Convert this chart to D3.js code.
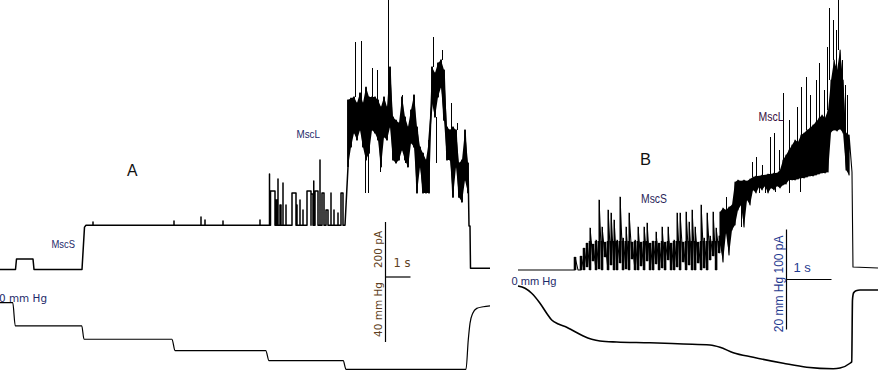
<!DOCTYPE html>
<html>
<head>
<meta charset="utf-8">
<script src="https://cdn.jsdelivr.net/npm/d3@7"></script>
<style>
body { margin: 0; background: #fff; }
svg { display: block; }
.trace { fill: none; stroke: #000; stroke-linejoin: round; }
.bar { stroke: #000; stroke-width: 1.2; }
</style>
</head>
<body>
<script>
var width = 878,
    height = 370;

// ---------- panel A : time (s), current (pA), pressure (mm Hg) ----------
var stepA = [[0, 2], [0.62, 2], [0.66, 40], [1.32, 40], [1.36, 2], [3.28, 2], [3.38, 156], [3.44, 163]];
var plateauA = 163;
// single openings on the MscS plateau: [start, end, level]
var eventsA = [
  [3.72, 3.72, 175], [6.96, 6.96, 178], [8.04, 8.04, 193], [8.2, 8.2, 182], [8.92, 8.92, 178], [10.4, 10.4, 182],
  [10.78, 10.78, 349], [10.82, 11.0, 287], [11.04, 11.08, 255], [11.12, 11.12, 331], [11.2, 11.24, 236],
  [11.32, 11.32, 316], [11.44, 11.44, 236], [11.68, 11.84, 280], [11.88, 11.88, 236], [12.0, 12.0, 255],
  [12.12, 12.12, 218], [12.28, 12.44, 287], [12.44, 12.52, 276], [12.55, 12.55, 324], [12.6, 12.72, 287],
  [12.8, 12.8, 400], [12.88, 12.96, 280], [13.04, 13.12, 218], [13.24, 13.24, 280], [13.36, 13.36, 218],
  [13.52, 13.52, 207], [13.64, 13.72, 280]
];
// MscL burst, sampled every 0.12 s from 13.92 s: low and high edge
var coreA_t0 = 13.92, coreA_dt = 0.12;
var coreA_lo = [375, 447, 498, 473, 509, 447, 400, 425, 509, 498, 473, 375, 484, 473, 520, 400, 389, 400, 436, 400,
  375, 462, 447, 280, 375, 280, 280, 280, 607, 556, 629, 665, 545, 400, 400, 265, 375, 265, 247, 327, 280];
var coreA_hi = [618, 625, 629, 607, 644, 607, 665, 629, 629, 629, 618, 593, 629, 593, 738, 556, 545, 535, 629, 556,
  520, 582, 636, 520, 447, 425, 400, 473, 738, 716, 753, 764, 727, 520, 509, 520, 509, 389, 400, 509, 389];
var spikesA = [[14.2, 829], [14.47, 833], [14.88, 734], [15.08, 727], [15.52, 982], [16.08, 636], [16.6, 636],
  [17.32, 847], [17.68, 800], [18.04, 607], [18.28, 535], [18.64, 509]];
var dipsA = [[14.6, 280], [14.72, 280], [15.2, 356], [16.2, 389], [17.44, 389], [18.12, 265], [18.52, 247]];
var endA = [[18.76, 160], [18.8, 160], [18.82, 6], [19.6, 6]];
var pressA = [[0, 0], [0.51, 0], [0.61, -14.2], [3.27, -14.2], [3.36, -22.5], [6.88, -22.5], [7.0, -29.5],
  [10.63, -29.5], [10.76, -35.7], [13.73, -35.7], [13.84, -41], [18.64, -41], [18.73, -23], [18.8, -12.7],
  [18.91, -6.5], [19.07, -3.5], [19.33, -2.5], [19.6, -2.0]];

// ---------- panel B ----------
var startB = [[0, 0], [1.267, 0]];
var openB1 = 58;   // MscS open level in the first burst
// MscS part, every 0.0667 s from 1.267 s
var coreB1_t0 = 1.267, coreB1_dt = 0.0667;
var coreB1_lo = [0, 0, 0, 0, 6, 0, 18, 0, 2, 0, 26, 0, 10, 0, 0, 14, 0, 2, 0, 22, 0, 0, 8, 0, 18, 0, 0, 12, 0, 4,
  0, 20, 0, 0, 6, 0, 16, 0, 10, 0, 0, 14, 0, 4, 0, 20, 28, 0, 34];
var coreB1_hi = [26, 0, 28, 44, 54, 84, 52, 60, 140, 86, 56, 120, 114, 100, 60, 146, 64, 86, 114, 56, 60, 86, 56, 86,
  94, 54, 58, 76, 54, 86, 56, 86, 54, 60, 114, 114, 56, 116, 96, 120, 86, 56, 130, 64, 114, 68, 116, 84, 68];
// MscS + MscL part, every 0.0667 s from 4.489 s
var coreB2_t0 = 4.489, coreB2_dt = 0.0667;
var coreB2_lo = [50, 16, 74, 30, 80, 90, 120, 130, 86, 140, 130, 160, 154, 166, 160, 168, 154, 164, 160, 168,
  164, 170, 172, 180, 180, 180, 182, 184, 184, 186, 188, 188, 190, 192, 194, 194, 196, 276, 280, 278, 282, 274, 200, 190];
var coreB2_hi = [116, 124, 120, 126, 130, 176, 180, 178, 180, 178, 182, 186, 188, 188, 190, 190, 192, 192, 194, 194,
  200, 220, 230, 240, 250, 260, 256, 270, 274, 280, 284, 290, 296, 304, 310, 304, 320, 380, 420, 400, 440, 380, 274, 270];
var spikesB = [[4.644, 146], [5.222, 216], [5.311, 226], [5.444, 210], [5.6, 266], [5.711, 274], [5.8, 240],
  [5.889, 354], [6.044, 300], [6.2, 326], [6.311, 366], [6.422, 386], [6.489, 350], [6.644, 380], [6.711, 414],
  [6.8, 360], [6.867, 446], [6.933, 524], [7.0, 500], [7.067, 480], [7.133, 540], [7.2, 420], [7.267, 370], [7.333, 350]];
var dipsB = [[4.97, 86], [5.36, 154], [5.51, 154], [5.73, 156], [6.04, 154], [6.27, 156]];
var endB = [[7.422, 196], [7.444, 6], [8.0, 4]];
var pressB = [[0, 0], [0.156, -0.9], [0.304, -2.9], [0.489, -6.9], [0.637, -10.9], [0.749, -13.6], [0.896, -15.2],
  [1.082, -16.5], [1.229, -17.9], [1.451, -20.0], [1.638, -21.3], [1.822, -22.0], [2.193, -22.4], [2.933, -22.7],
  [3.673, -23.2], [4.267, -23.6], [4.489, -24.5], [4.784, -26.7], [5.229, -28.5], [5.896, -30.9], [6.416, -32.5],
  [7.007, -33.1], [7.156, -32.8], [7.378, -30.9], [7.416, -30.3], [7.433, -5.6], [7.456, -2.8], [7.511, -1.9],
  [7.6, -1.6], [8.0, -1.6]];

// ---------- scales ----------
var xA = d3.scaleLinear().domain([0, 19.6]).range([0, 490]),
    yA = d3.scaleLinear().domain([0, 200]).range([270, 215]),
    pyA = d3.scaleLinear().domain([0, -40]).range([302.7, 367.7]);
var xB = d3.scaleLinear().domain([0, 8]).range([518, 878]),
    yB = d3.scaleLinear().domain([0, 100]).range([270, 220]),
    pyB = d3.scaleLinear().domain([0, -20]).range([286, 336]);

var svg = d3.select("body").append("svg")
    .attr("width", width)
    .attr("height", height);

function samples(t0, dt, lo, hi) {
  return lo.map(function(v, i) { return {t: t0 + i * dt, lo: v, hi: hi[i]}; });
}

// sawtooth through low/high edges of each sample
function zigzag(s) {
  var pts = [];
  s.forEach(function(d) { pts.push([d.t, d.lo], [d.t, d.hi]); });
  return pts;
}

function expandEvents(ev, base) {
  var pts = [];
  ev.forEach(function(e) {
    pts.push([e[0], base], [e[0], e[2]], [e[1], e[2]], [e[1], base]);
  });
  return pts;
}

function nearest(s, t) {
  var i = Math.round((t - s[0].t) / (s[1].t - s[0].t));
  return s[Math.max(0, Math.min(s.length - 1, i))];
}

function vlines(g, data, x, y, col, w, crisp) {
  g.append("g").selectAll("line")
    .data(data)
    .enter().append("line")
      .attr("x1", d => x(d.t)).attr("x2", d => x(d.t))
      .attr("y1", d => y(d.from)).attr("y2", d => y(d.to))
      .attr("stroke", col).attr("stroke-width", w)
      .attr("shape-rendering", crisp ? "crispEdges" : null);
}

function drawPanel(x, y, py, trace, fills, spikes, dips, press, pw, tw) {
  var g = svg.append("g");
  var line = d3.line().x(d => x(d[0])).y(d => y(d[1]));

  fills.forEach(function(s) {
    g.append("path")
      .datum(s)
      .attr("fill", "#000")
      .attr("d", d3.area().x(d => x(d.t)).y0(d => y(d.lo)).y1(d => y(d.hi)));
  });

  g.append("path")
    .datum(trace)
    .attr("class", "trace")
    .attr("stroke-width", tw)
    .attr("d", line);

  vlines(g, spikes.map(d => ({t: d[0], from: nearest(d[2], d[0]).hi, to: d[1]})), x, y, "#000", 1, true);
  vlines(g, dips.map(d => ({t: d[0], from: nearest(d[2], d[0]).lo, to: d[1]})), x, y, "#000", 1, true);

  g.append("path")
    .datum(press)
    .attr("class", "trace")
    .attr("stroke-width", pw)
    .attr("d", d3.line().x(d => x(d[0])).y(d => py(d[1])).curve(d3.curveMonotoneX));
  return g;
}

// panel A
var sA = samples(coreA_t0, coreA_dt, coreA_lo, coreA_hi);
var traceA = stepA
  .concat(expandEvents(eventsA, plateauA))
  .concat([[13.8, plateauA]])
  .concat(zigzag(sA))
  .concat(endA);
var gA = drawPanel(xA, yA, pyA, traceA, [sA],
  spikesA.map(d => [d[0], d[1], sA]), dipsA.map(d => [d[0], d[1], sA]), pressA, 1.2, 1.5);
// hairline texture inside the burst
vlines(gA, sA.map(d => ({t: d.t, from: d.lo, to: d.hi})), xA, yA, "#000", 1.6);

// panel B
var sB1 = samples(coreB1_t0, coreB1_dt, coreB1_lo, coreB1_hi),
    sB2 = samples(coreB2_t0, coreB2_dt, coreB2_lo, coreB2_hi);
var traceB = startB
  .concat(zigzag(sB1))
  .concat(zigzag(sB2))
  .concat(endB);
var gB = drawPanel(xB, yB, pyB, traceB, [sB2],
  spikesB.map(d => [d[0], d[1], sB2]), dipsB.map(d => [d[0], d[1], sB2]), pressB, 1.6, 1.1);
// dense MscS openings: bars from the closed level up to the open level
vlines(gB, sB1.filter(d => d.hi > 0).map(d => ({t: d.t, from: d.lo, to: Math.min(d.hi, openB1)})), xB, yB, "#000", 2.6);
vlines(gB, sB1.filter(d => d.hi > openB1).map(d => ({t: d.t, from: openB1, to: d.hi})), xB, yB, "#000", 1, true);

// ---------- scale bars ----------
function scaleBar(x0, y0, x, y, py, yVal, pVal, cur, prs, col, font, fs, tx, ty) {
  var up = y(0) - y(yVal), down = py(pVal) - py(0), across = x(1) - x(0);
  svg.append("line").attr("class", "bar")
    .attr("x1", x0).attr("x2", x0).attr("y1", y0 - up).attr("y2", y0 + down);
  svg.append("line").attr("class", "bar")
    .attr("x1", x0).attr("x2", x0 + across).attr("y1", y0).attr("y2", y0);
  svg.append("text")
    .attr("transform", "translate(" + (x0 - 4) + "," + (y0 - up / 2) + ") rotate(-90)")
    .attr("text-anchor", "middle")
    .attr("font-family", font).attr("font-size", fs).attr("fill", col)
    .text(cur);
  svg.append("text")
    .attr("transform", "translate(" + (x0 - 4) + "," + (y0 + down / 2) + ") rotate(-90)")
    .attr("text-anchor", "middle")
    .attr("font-family", font).attr("font-size", fs).attr("fill", col)
    .text(prs);
  svg.append("text")
    .attr("x", x0 + tx).attr("y", y0 + ty)
    .attr("font-family", font).attr("font-size", fs + 1).attr("fill", col)
    .text("1 s");
}
scaleBar(385.5, 277, xA, yA, pyA, 200, -40, "200 pA", "40 mm Hg", "#5e4020", "DejaVu Sans", 10.5, 8, -10);
scaleBar(786.5, 279.5, xB, yB, pyB, 100, -20, "100 pA", "20 mm Hg", "#1f3a8f", "Liberation Sans", 12, 7, -8);

// ---------- labels ----------
var labels = [
  {text: "A", x: 127, y: 176, fs: 16, len: 10.5, col: "#111", font: "Liberation Sans"},
  {text: "MscS", x: 51.5, y: 247.5, fs: 11, len: 23.5, col: "#1d2a6a", font: "Liberation Sans"},
  {text: "MscL", x: 296.5, y: 137.5, fs: 11, len: 23.5, col: "#1d2a6a", font: "Liberation Sans"},
  {text: "0 mm Hg", x: -1, y: 301.5, fs: 10, len: 48, col: "#1d2a6a", font: "DejaVu Sans"},
  {text: "B", x: 640, y: 165, fs: 16, len: 11, col: "#111", font: "Liberation Sans"},
  {text: "MscS", x: 641, y: 203, fs: 13, len: 26, col: "#2a1f5a", font: "Liberation Sans"},
  {text: "MscL", x: 758.5, y: 120.5, fs: 13, len: 25, col: "#3a1040", font: "Liberation Sans"},
  {text: "0 mm Hg", x: 511.5, y: 285, fs: 11, len: 45, col: "#1d2a6a", font: "Liberation Sans"}
];
svg.append("g").selectAll("text")
  .data(labels)
  .enter().append("text")
    .attr("x", d => d.x).attr("y", d => d.y)
    .attr("font-family", d => d.font)
    .attr("font-size", d => d.fs)
    .attr("fill", d => d.col)
    .attr("textLength", d => d.len)
    .attr("lengthAdjust", "spacingAndGlyphs")
    .text(d => d.text);
</script>
</body>
</html>
